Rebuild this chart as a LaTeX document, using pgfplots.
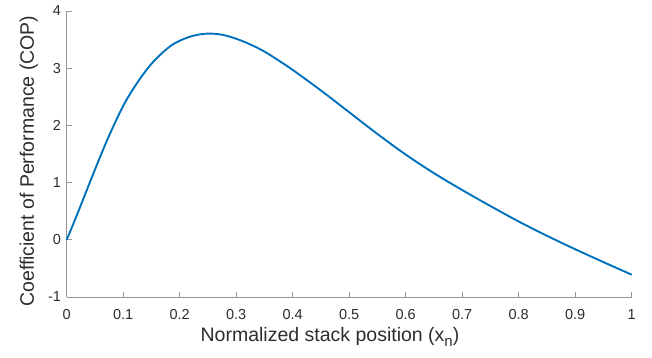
\documentclass[border=0pt]{standalone}
\usepackage{fontspec}
\setmainfont{Liberation Sans}
\usepackage{pgfplots}
\pgfplotsset{compat=1.18}
\definecolor{mblue}{rgb}{0,0.447,0.741}
\definecolor{axgray}{RGB}{150,150,150}
\definecolor{txtgray}{RGB}{45,45,45}
\begin{document}
\begin{tikzpicture}
\begin{axis}[
  name=ax,
  scale only axis,
  width=565pt, height=286pt,
  xmin=0, xmax=1, ymin=-1, ymax=4,
  axis x line*=bottom, axis y line*=left,
  axis line style={axgray, line width=0.7pt},
  every tick/.style={axgray, line width=0.7pt},
  tick align=inside,
  major tick length=5pt,
  xtick={0,0.1,...,1.0},
  ytick={-1,0,1,2,3,4},
  xticklabels={0,0.1,0.2,0.3,0.4,0.5,0.6,0.7,0.8,0.9,1},
  /pgf/number format/assume math mode=true,
  tick label style={font=\fontsize{14.5}{16}\selectfont, text=txtgray},
  xticklabel style={anchor=base, yshift=-23pt},
  yticklabel style={anchor=east, inner sep=0pt, xshift=-5.5pt},
  xlabel={Normalized stack position (x\raisebox{-0.45ex}{\fontsize{15}{16}\selectfont n})},
  ylabel={Coefficient of Performance (COP)},
  label style={font=\fontsize{19.5}{22}\selectfont, text=txtgray},
  xlabel style={at={(axis description cs:0.466,-0.156)}, anchor=base},
  ylabel style={at={(axis description cs:-0.058,0.475)}, anchor=base},
  clip=false,
]
\addplot[mblue, line width=1.9pt, smooth, tension=0.55] coordinates {
(0,0) (0.018,0.43) (0.035,0.855) (0.053,1.30) (0.071,1.73) (0.089,2.12)
(0.106,2.45) (0.13,2.82) (0.153,3.11) (0.18,3.36) (0.2,3.48) (0.225,3.57)
(0.25,3.605) (0.275,3.585) (0.30,3.515) (0.325,3.415) (0.35,3.29) (0.375,3.135)
(0.40,2.97) (0.45,2.61) (0.50,2.23) (0.55,1.85) (0.60,1.49) (0.65,1.165)
(0.70,0.87) (0.75,0.59) (0.80,0.32) (0.85,0.07) (0.90,-0.165) (0.95,-0.39)
(1.00,-0.61)
};
\end{axis}
\pgfresetboundingbox
\path (ax.south west) ++(-66.7pt,-61pt) rectangle ++(652pt,358pt);
\end{tikzpicture}
\end{document}
